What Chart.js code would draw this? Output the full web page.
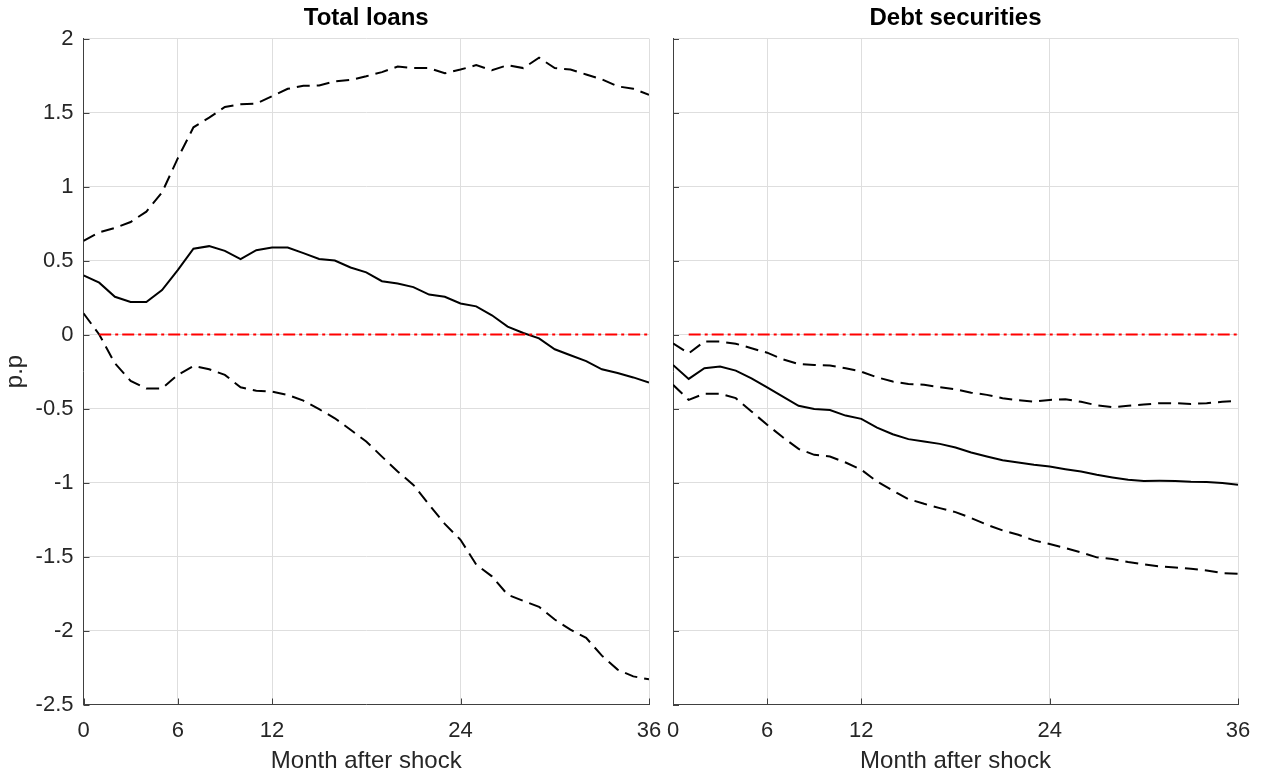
<!DOCTYPE html>
<html>
<head>
<meta charset="utf-8">
<script src="https://cdn.jsdelivr.net/npm/chart.js@4.4.1/dist/chart.umd.min.js"></script>
<style>
  html, body { margin: 0; padding: 0; background: #fff; }
  body { width: 1263px; height: 776px; position: relative; overflow: hidden; }
  .panel { position: absolute; top: 0; height: 776px; }
  #left { left: 0; width: 679px; }
  #right { left: 650px; width: 618px; }
</style>
</head>
<body>
<div class="panel" id="left"><canvas id="loans"></canvas></div>
<div class="panel" id="right"><canvas id="debt"></canvas></div>
<script>
// months after the shock
const months = [0,1,2,3,4,5,6,7,8,9,10,11,12,13,14,15,16,17,18,19,20,21,22,23,24,25,26,27,28,29,30,31,32,33,34,35,36]
const xTicks = [0, 6, 12, 24, 36]

// Total loans
const loansMid = [0.40,0.35,0.255,0.22,0.22,0.30,0.435,0.58,0.597,0.565,0.51,0.57,0.588,0.588,0.55,0.51,0.50,0.453,0.42,0.36,0.345,0.32,0.27,0.255,0.21,0.19,0.13,0.053,0.01,-0.026,-0.10,-0.14,-0.18,-0.235,-0.26,-0.29,-0.325]
const loansUp = [0.633,0.69,0.72,0.76,0.83,0.96,1.19,1.40,1.465,1.537,1.555,1.56,1.61,1.66,1.68,1.683,1.71,1.72,1.745,1.773,1.81,1.80,1.80,1.765,1.79,1.82,1.785,1.82,1.80,1.87,1.80,1.79,1.757,1.724,1.677,1.66,1.62]
const loansLow = [0.143,0.0,-0.195,-0.313,-0.365,-0.365,-0.273,-0.213,-0.235,-0.273,-0.357,-0.38,-0.386,-0.408,-0.447,-0.505,-0.566,-0.644,-0.723,-0.825,-0.926,-1.016,-1.15,-1.28,-1.387,-1.555,-1.634,-1.758,-1.80,-1.84,-1.926,-1.994,-2.05,-2.17,-2.264,-2.31,-2.33]

// Debt securities
const debtMid = [-0.206,-0.30,-0.228,-0.217,-0.244,-0.296,-0.357,-0.42,-0.482,-0.503,-0.51,-0.548,-0.57,-0.629,-0.674,-0.707,-0.723,-0.739,-0.764,-0.797,-0.824,-0.849,-0.865,-0.88,-0.892,-0.91,-0.926,-0.948,-0.966,-0.982,-0.99,-0.989,-0.99,-0.995,-0.997,-1.004,-1.016]
const debtUp = [-0.06,-0.127,-0.048,-0.048,-0.062,-0.093,-0.123,-0.168,-0.199,-0.206,-0.21,-0.228,-0.251,-0.289,-0.318,-0.334,-0.34,-0.356,-0.37,-0.393,-0.408,-0.43,-0.444,-0.453,-0.442,-0.437,-0.455,-0.478,-0.491,-0.482,-0.473,-0.464,-0.464,-0.469,-0.464,-0.455,-0.449]
const debtLow = [-0.34,-0.442,-0.40,-0.40,-0.43,-0.52,-0.61,-0.694,-0.773,-0.813,-0.824,-0.865,-0.914,-0.993,-1.054,-1.112,-1.144,-1.173,-1.20,-1.24,-1.285,-1.324,-1.353,-1.391,-1.416,-1.443,-1.472,-1.506,-1.517,-1.537,-1.553,-1.567,-1.574,-1.582,-1.594,-1.612,-1.616]

// zero reference, drawn from month 1
const zeroLine = [null,0,0,0,0,0,0,0,0,0,0,0,0,0,0,0,0,0,0,0,0,0,0,0,0,0,0,0,0,0,0,0,0,0,0,0,0]

const FONT = "'Liberation Sans', Arial, Helvetica, sans-serif"
const TEXT = "#262626"
const AXIS = "#404040"
const GRID = "#dedede"

function pts(values){
    return months.map((m, i) => ({x: m, y: values[i]}))
}

// MATLAB style ticks pointing into the plot
const innerTicks = {
    id: "innerTicks",
    afterDatasetsDraw(chart){
        const ctx = chart.ctx
        const area = chart.chartArea
        const xs = chart.scales.x
        const ys = chart.scales.y
        ctx.save()
        ctx.strokeStyle = AXIS
        ctx.lineWidth = 1
        ctx.beginPath()
        ys.ticks.forEach(t => {
            const py = Math.round(ys.getPixelForValue(t.value)) + 0.5
            ctx.moveTo(area.left, py)
            ctx.lineTo(area.left + 6, py)
        })
        xs.ticks.forEach(t => {
            const px = Math.round(xs.getPixelForValue(t.value)) + 0.5
            ctx.moveTo(px, area.bottom)
            ctx.lineTo(px, area.bottom - 6)
        })
        ctx.stroke()
        ctx.restore()
    }
}

function makeChart(id, title, mid, up, low, opts){
    const ctx = document.getElementById(id).getContext("2d")
    return new Chart(ctx, {
        type: "line",
        data: {
            datasets: [
                {data: pts(zeroLine), borderColor: "#ff0000", borderWidth: 2, borderDash: [12, 4, 3, 4]},
                {data: pts(up), borderColor: "#000", borderWidth: 2, borderDash: [13, 7]},
                {data: pts(low), borderColor: "#000", borderWidth: 2, borderDash: [13, 7]},
                {data: pts(mid), borderColor: "#000", borderWidth: 2}
            ]
        },
        options: {
            responsive: true,
            maintainAspectRatio: false,
            animation: false,
            events: [],
            spanGaps: false,
            elements: { point: { radius: 0 }, line: { tension: 0 } },
            layout: { padding: { left: 0, right: opts.padRight, top: 0, bottom: 0 } },
            plugins: {
                legend: { display: false },
                tooltip: { enabled: false },
                title: {
                    display: true,
                    text: title,
                    fullSize: false,
                    color: "#000",
                    font: { family: FONT, size: 24, weight: "bold" },
                    padding: { top: 4, bottom: 5.7 }
                }
            },
            scales: {
                x: {
                    type: "linear",
                    min: 0,
                    max: 36,
                    afterBuildTicks: s => { s.ticks = xTicks.map(v => ({value: v})) },
                    afterFit: s => { s.height = 71.5 },
                    grid: { color: GRID, drawTicks: false },
                    border: { display: true, color: AXIS, width: 1 },
                    ticks: {
                        color: TEXT,
                        font: { family: FONT, size: 22 },
                        padding: 13,
                        maxRotation: 0,
                        callback: v => String(v)
                    },
                    title: {
                        display: true,
                        text: "Month after shock",
                        color: TEXT,
                        font: { family: FONT, size: 24 },
                        padding: { top: 0, bottom: 0 }
                    }
                },
                y: {
                    min: -2.5,
                    max: 2,
                    afterFit: s => { s.width = opts.yWidth },
                    grid: { color: GRID, drawTicks: false },
                    border: { display: true, color: AXIS, width: 1 },
                    ticks: {
                        display: opts.yLabels,
                        stepSize: 0.5,
                        color: TEXT,
                        font: { family: FONT, size: 22 },
                        padding: 10,
                        callback: v => String(+v.toFixed(1))
                    },
                    title: {
                        display: opts.yLabels,
                        text: "p.p",
                        color: TEXT,
                        font: { family: FONT, size: 24 },
                        padding: { top: 1, bottom: 0 }
                    }
                }
            }
        },
        plugins: [innerTicks]
    })
}

makeChart("loans", "Total loans", loansMid, loansUp, loansLow, {yWidth: 83.5, padRight: 30, yLabels: true})
makeChart("debt", "Debt securities", debtMid, debtUp, debtLow, {yWidth: 23, padRight: 30, yLabels: false})
</script>
</body>
</html>
